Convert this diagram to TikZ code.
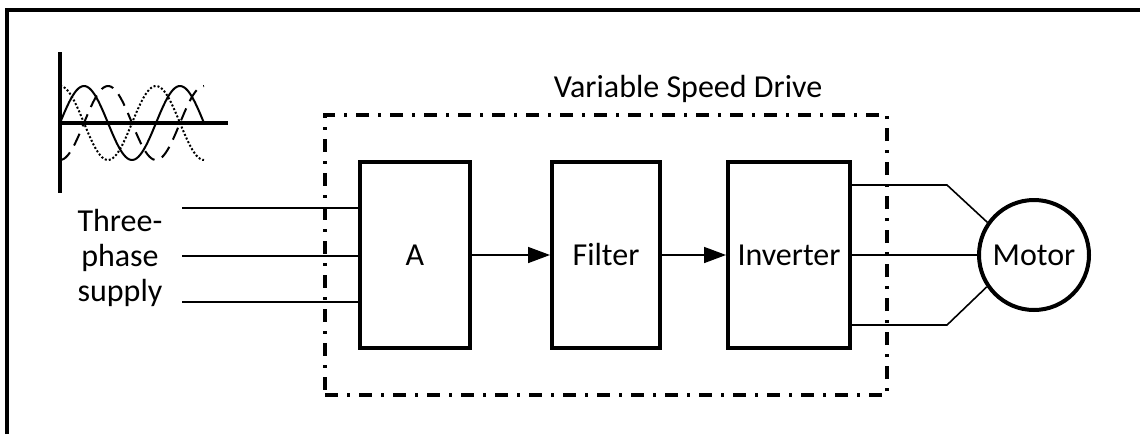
\documentclass[tikz,border=0pt]{standalone}
\usepackage{fontspec}
\setmainfont{Carlito}
\usetikzlibrary{arrows.meta}

\begin{document}
\begin{tikzpicture}[x=0.5pt,y=-0.5pt,
  every node/.style={font=\fontsize{16}{17.5}\selectfont},
  block/.style={draw=black, line width=2pt, minimum width=#1, minimum height=93pt, inner sep=0pt},
  wire/.style={black, line width=0.8pt},
  flow/.style={wire, -{Triangle[length=11pt,width=8pt]}},
  wave/.style={black, line width=1pt, domain=0:144, samples=80, smooth},
  dashdot/.style={line width=1.75pt, dash pattern=on 6.5pt off 4.5pt on 1.5pt off 4.5pt}]
\useasboundingbox (0,0) rectangle (1140,434);

%FRAME
\draw[line width=2pt] (7,434) -- (7,10) -- (1140,10);

%WAVEFORMS
\draw[line width=1.75pt] (60,52) -- (60,193);
\draw[line width=1.75pt] (60,123) -- (228,123);
\draw[wave] plot ({60+\x},{123-37*sin(\x*3.75)});
\draw[wave, dash pattern=on 1pt off 1pt] plot ({60+\x},{123-37*cos(\x*3.75)});
\draw[wave, dash pattern=on 6.5pt off 4pt] plot ({60+\x},{123+37*cos(\x*3.75)});

%DRIVE
\node[draw, dashdot, minimum width=281pt, minimum height=140pt] (drive) at (606,255) {};
\node[anchor=base] (vsd) at (688,97) {Variable Speed Drive};

\node[block=55pt] (rect) at (415,255) {A};
\node[block=54pt] (filter) at (606,255) {Filter};
\node[block=61pt] (inverter) at (789,255) {Inverter};

\draw[flow] (rect.east) -- (filter.west);
\draw[flow] (filter.east) -- (inverter.west);

%SUPPLY
\node[align=center] (supply) at (120,258) {Three-\\phase\\supply};
\coordinate (in1) at (182,208);
\coordinate (in2) at (182,256);
\coordinate (in3) at (182,302);
\draw[wire] (in1) -- (in1 -| rect.west);
\draw[wire] (in2) -- (in2 -| rect.west);
\draw[wire] (in3) -- (in3 -| rect.west);

%MOTOR
\node[circle, draw, line width=2pt, minimum size=55pt, inner sep=0pt] (motor) at (1034,255) {Motor};
\coordinate (out1) at (947,185);
\coordinate (out3) at (947,325);
\draw[wire] (out1 -| inverter.east) -- (out1) -- (motor.145);
\draw[wire] (inverter.east) -- (motor.west);
\draw[wire] (out3 -| inverter.east) -- (out3) -- (motor.214);

\end{tikzpicture}
\end{document}
